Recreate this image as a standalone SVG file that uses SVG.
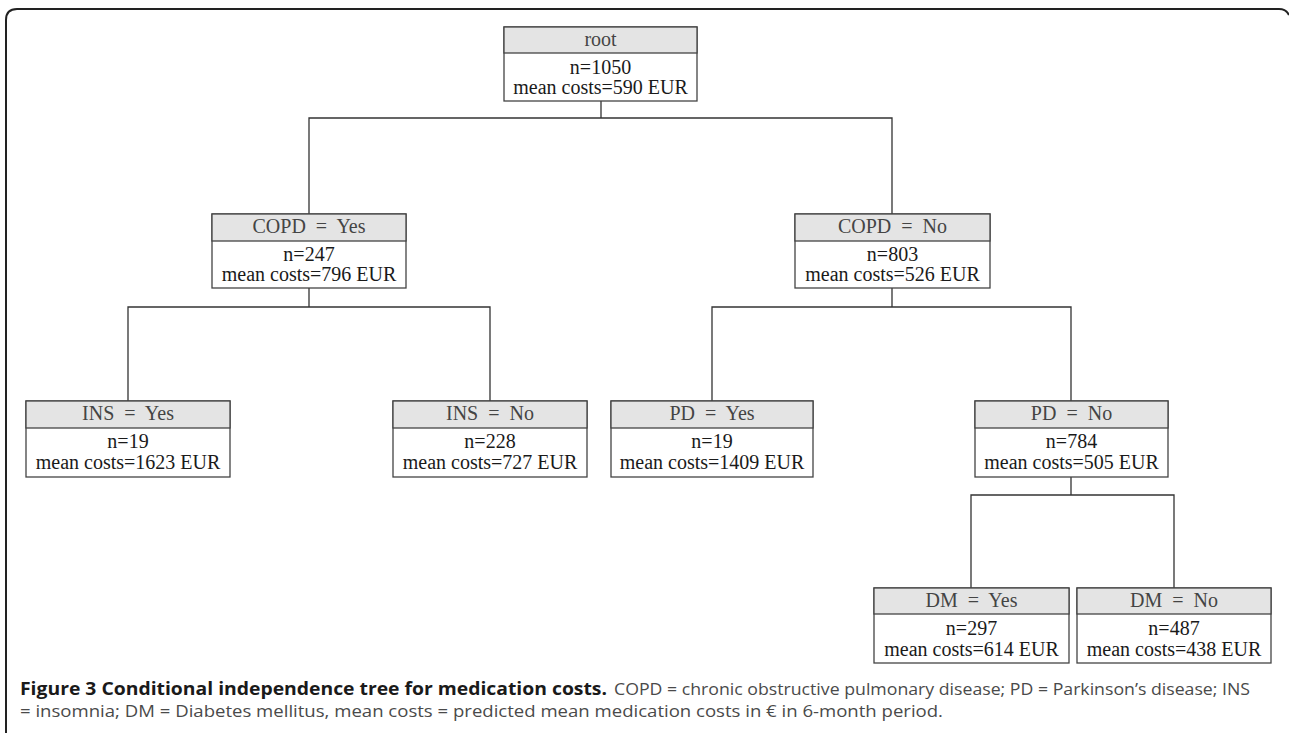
<svg xmlns="http://www.w3.org/2000/svg" width="1289" height="733" viewBox="0 0 1289 733">
<style>
.hdr{fill:#e4e4e4;stroke:#444;stroke-width:1.3}
.bod{fill:#fff;stroke:#444;stroke-width:1.3}
.t{font-family:"Liberation Serif","DejaVu Serif",serif;font-size:20px;fill:#1a1a1a;text-anchor:middle;white-space:pre}
.h{fill:#444}
.con{fill:none;stroke:#333;stroke-width:1.3}
.cap{font-family:"Open Sans","Noto Sans",sans-serif;font-size:17px;fill:#4a4a4a}
.capb{font-weight:bold;fill:#1a1a1a}
</style>
<rect width="1289" height="733" fill="#fff"/>
<path d="M6,733 V20 Q6,9 17,9 H1279 Q1286,9 1289,15" fill="none" stroke="#222" stroke-width="2"/>
<g id="connectors" class="con">
<path d="M601,101 V118 H309 V214 M601,118 H892 V214"/>
<path d="M309,288 V307 H128 V401 M309,307 H490 V401"/>
<path d="M892,288 V307 H712 V401 M892,307 H1071 V401"/>
<path d="M1071,477 V495 H971 V588 M1071,495 H1174 V588"/>
</g>
<g id="root">
<rect class="bod" x="504" y="27" width="193" height="74"/>
<rect class="hdr" x="504" y="27" width="193" height="26"/>
<text class="t h" x="600.5" y="46">root</text>
<text class="t" x="600.5" y="74">n=1050</text>
<text class="t" x="600.5" y="94">mean costs=590 EUR</text>
</g>
<g id="copd_yes">
<rect class="bod" x="212" y="214" width="194" height="74"/>
<rect class="hdr" x="212" y="214" width="194" height="27"/>
<text class="t h" x="309" y="233" xml:space="preserve">COPD  =  Yes</text>
<text class="t" x="309" y="261">n=247</text>
<text class="t" x="309" y="281">mean costs=796 EUR</text>
</g>
<g id="copd_no">
<rect class="bod" x="795" y="214" width="195" height="74"/>
<rect class="hdr" x="795" y="214" width="195" height="27"/>
<text class="t h" x="892.5" y="233" xml:space="preserve">COPD  =  No</text>
<text class="t" x="892.5" y="261">n=803</text>
<text class="t" x="892.5" y="281">mean costs=526 EUR</text>
</g>
<g id="ins_yes">
<rect class="bod" x="26" y="401" width="204" height="76"/>
<rect class="hdr" x="26" y="401" width="204" height="27"/>
<text class="t h" x="128" y="420" xml:space="preserve">INS  =  Yes</text>
<text class="t" x="128" y="448">n=19</text>
<text class="t" x="128" y="469">mean costs=1623 EUR</text>
</g>
<g id="ins_no">
<rect class="bod" x="393" y="401" width="194" height="76"/>
<rect class="hdr" x="393" y="401" width="194" height="27"/>
<text class="t h" x="490" y="420" xml:space="preserve">INS  =  No</text>
<text class="t" x="490" y="448">n=228</text>
<text class="t" x="490" y="469">mean costs=727 EUR</text>
</g>
<g id="pd_yes">
<rect class="bod" x="611" y="401" width="202" height="76"/>
<rect class="hdr" x="611" y="401" width="202" height="27"/>
<text class="t h" x="712" y="420" xml:space="preserve">PD  =  Yes</text>
<text class="t" x="712" y="448">n=19</text>
<text class="t" x="712" y="469">mean costs=1409 EUR</text>
</g>
<g id="pd_no">
<rect class="bod" x="975" y="401" width="193" height="76"/>
<rect class="hdr" x="975" y="401" width="193" height="27"/>
<text class="t h" x="1071.5" y="420" xml:space="preserve">PD  =  No</text>
<text class="t" x="1071.5" y="448">n=784</text>
<text class="t" x="1071.5" y="469">mean costs=505 EUR</text>
</g>
<g id="dm_yes">
<rect class="bod" x="874" y="588" width="195" height="75"/>
<rect class="hdr" x="874" y="588" width="195" height="26"/>
<text class="t h" x="971.5" y="607" xml:space="preserve">DM  =  Yes</text>
<text class="t" x="971.5" y="635">n=297</text>
<text class="t" x="971.5" y="656">mean costs=614 EUR</text>
</g>
<g id="dm_no">
<rect class="bod" x="1077" y="588" width="194" height="75"/>
<rect class="hdr" x="1077" y="588" width="194" height="26"/>
<text class="t h" x="1174" y="607" xml:space="preserve">DM  =  No</text>
<text class="t" x="1174" y="635">n=487</text>
<text class="t" x="1174" y="656">mean costs=438 EUR</text>
</g>
<text class="cap capb" x="20" y="695" textLength="587" lengthAdjust="spacingAndGlyphs">Figure 3 Conditional independence tree for medication costs.</text>
<text class="cap" x="614" y="695" textLength="636" lengthAdjust="spacingAndGlyphs">COPD = chronic obstructive pulmonary disease; PD = Parkinson’s disease; INS</text>
<text class="cap" x="20" y="717" textLength="923" lengthAdjust="spacingAndGlyphs">= insomnia; DM = Diabetes mellitus, mean costs = predicted mean medication costs in € in 6-month period.</text>
</svg>
